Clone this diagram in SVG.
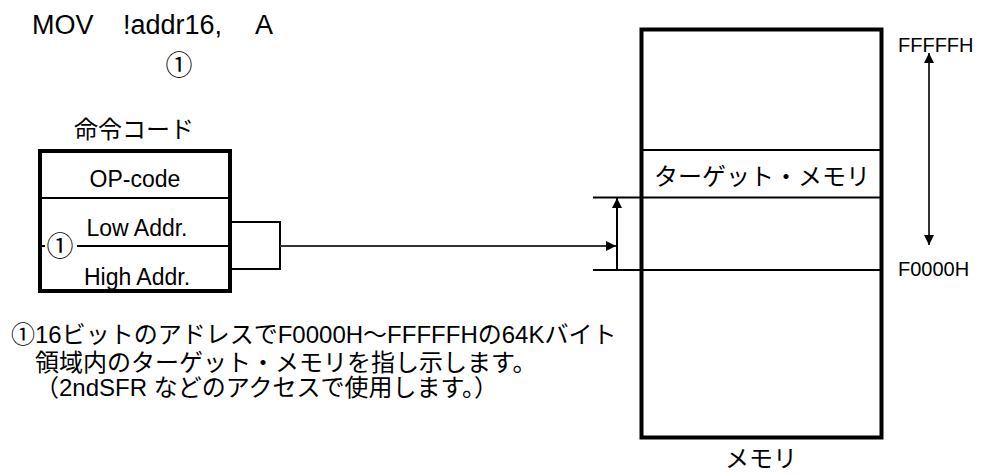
<svg xmlns="http://www.w3.org/2000/svg" width="981" height="475" viewBox="0 0 981 475">
<style>
  text { font-family: "Liberation Sans", "Noto Sans CJK JP", sans-serif; fill: #000; }
  .lbl { font-size: 23px; text-anchor: middle; }
  .jp { font-size: 24px; }
  .circ { font-size: 27px; text-anchor: middle; }
  .addr { font-size: 20px; }
  .frame { fill: #fff; stroke: #000; stroke-width: 4; }
  .div { stroke: #000; stroke-width: 2; fill: none; }
  .conn { stroke: #333; stroke-width: 2; fill: none; }
</style>
<defs>
  <marker id="ah" viewBox="0 0 10 10" markerUnits="userSpaceOnUse" markerWidth="10" markerHeight="11" refX="10" refY="5" orient="auto-start-reverse">
    <path d="M0,0 L10,5 L0,10 z" fill="#000"/>
  </marker>
</defs>
<rect width="981" height="475" fill="#fff"/>

<g id="instruction">
  <text style="font-size:27px"><tspan x="32" y="34">MOV</tspan><tspan x="123" y="34">!addr16,</tspan><tspan x="255" y="34">A</tspan></text>
  <text class="circ" x="179" y="75">①</text>
</g>

<g id="instruction-code">
  <text class="jp" x="134" y="138" text-anchor="middle">命令コード</text>
  <rect class="frame" x="40" y="151" width="190" height="140"/>
  <line class="div" x1="40" y1="198" x2="230" y2="198"/>
  <line class="div" x1="40" y1="246" x2="45" y2="246"/>
  <line class="div" x1="77" y1="246" x2="230" y2="246"/>
  <text class="lbl" x="135" y="187">OP-code</text>
  <text class="lbl" x="137" y="236">Low Addr.</text>
  <text class="lbl" x="137" y="285">High Addr.</text>
  <text class="circ" x="60" y="256">①</text>
</g>

<g id="memory">
  <rect class="frame" x="641.5" y="29.5" width="240" height="408"/>
  <line class="div" x1="641.5" y1="150" x2="881.5" y2="150"/>
  <line class="div" x1="593" y1="197.5" x2="881.5" y2="197.5"/>
  <line class="div" x1="593" y1="270" x2="881.5" y2="270"/>
  <text class="jp" x="762" y="185" text-anchor="middle">ターゲット・メモリ</text>
  <text class="jp" x="761" y="467" text-anchor="middle">メモリ</text>
  <text class="addr" x="898" y="52">FFFFFH</text>
  <text class="addr" x="898" y="276">F0000H</text>
</g>

<g id="connectors">
  <polyline class="div" points="232,222 280,222 280,269 232,269" stroke-width="2.5"/>
  <line class="conn" x1="280" y1="246" x2="616" y2="246" marker-end="url(#ah)"/>
  <line class="div" x1="617" y1="270" x2="617" y2="198" marker-end="url(#ah)"/>
  <line class="conn" x1="929" y1="53" x2="929" y2="245" marker-start="url(#ah)" marker-end="url(#ah)"/>
</g>

<g id="note">
  <text class="jp" x="11" y="343">①16ビットのアドレスでF0000H～FFFFFHの64Kバイト</text>
  <text class="jp" x="35" y="371">領域内のターゲット・メモリを指し示します。</text>
  <text class="jp" x="35" y="396">（2ndSFR などのアクセスで使用します。）</text>
</g>
</svg>
